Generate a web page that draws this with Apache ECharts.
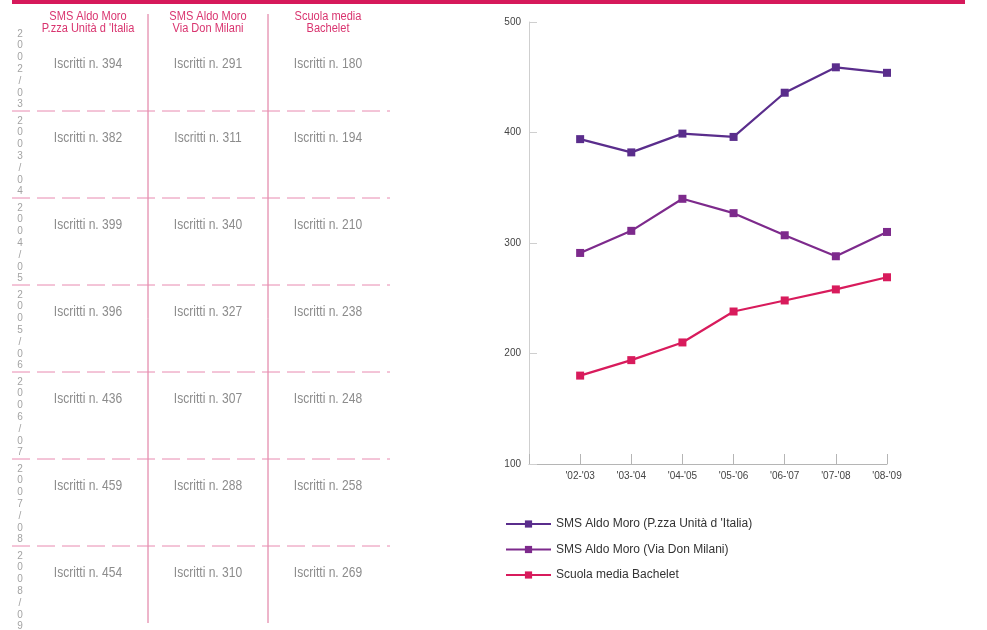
<!DOCTYPE html>
<html>
<head>
<meta charset="utf-8">
<script src="https://cdn.jsdelivr.net/npm/echarts@6/dist/echarts.min.js"></script>
<style>
  html, body { margin: 0; padding: 0; background: #fff; }
  #chart { width: 987px; height: 630px; }
</style>
</head>
<body>
<div id="chart"></div>
<script>
// dati
const seasons = ["'02-'03", "'03-'04", "'04-'05", "'05-'06", "'06-'07", "'07-'08", "'08-'09"];
const schoolYears = ['2002/03', '2003/04', '2004/05', '2005/06', '2006/07', '2007/08', '2008/09'];
const schoolNames = ['SMS Aldo Moro (P.zza Unità d \'Italia)', 'SMS Aldo Moro (Via Don Milani)', 'Scuola media Bachelet'];
const tableHeads = [['SMS Aldo Moro', 'P.zza Unità d \'Italia'], ['SMS Aldo Moro', 'Via Don Milani'], ['Scuola media', 'Bachelet']];
const aldoMoroPiazza = [394, 382, 399, 396, 436, 459, 454];
const aldoMoroMilani = [291, 311, 340, 327, 307, 288, 310];
const bachelet = [180, 194, 210, 238, 248, 258, 269];
const yTicks = [100, 200, 300, 400, 500];

const FONT = '"Liberation Sans", Arial, sans-serif';
const colors = ['#5a2d8c', '#7d2a8c', '#d81b5c'];
const allSeries = [aldoMoroPiazza, aldoMoroMilani, bachelet];

// tabella a sinistra (disegnata con graphic)
const colX = [88, 208, 328];
const lineY = [111, 198, 285, 372, 459, 546];
const graphic = [];

graphic.push({ type: 'rect', shape: { x: 12, y: 0, width: 953, height: 4 }, style: { fill: '#d6195b' } });

tableHeads.forEach((h, i) => {
  graphic.push({
    type: 'text', x: colX[i], y: 11, scaleX: 0.92,
    style: { text: h.join('\n'), fill: '#d9346f', font: '12px ' + FONT, lineHeight: 12, textAlign: 'center', textVerticalAlign: 'top' }
  });
});

[148, 268].forEach(x => {
  graphic.push({ type: 'line', shape: { x1: x, y1: 14, x2: x, y2: 623 }, style: { stroke: '#dc6d96', lineWidth: 1 } });
});

lineY.forEach(y => {
  graphic.push({ type: 'line', shape: { x1: 12, y1: y, x2: 390, y2: y }, style: { stroke: '#e88ab0', lineWidth: 1, lineDash: [18, 7] } });
});

schoolYears.forEach((yr, r) => {
  const top = r === 0 ? 28 : lineY[r - 1] + 4;
  graphic.push({
    type: 'text', x: 20, y: top,
    style: { text: yr.split('').join('\n'), fill: '#a3a3a3', font: '10px ' + FONT, lineHeight: 11.8, textAlign: 'center', textVerticalAlign: 'top' }
  });
  const cy = r === 0 ? 64 : lineY[r - 1] + 27;
  allSeries.forEach((vals, c) => {
    graphic.push({
      type: 'text', x: colX[c], y: cy, scaleX: 0.86,
      style: { text: 'Iscritti n. ' + vals[r], fill: '#8c8c8c', font: '14px ' + FONT, textAlign: 'center', textVerticalAlign: 'middle' }
    });
  });
});

const chart = echarts.init(document.getElementById('chart'));

chart.setOption({
  animation: false,
  color: colors,
  textStyle: { fontFamily: FONT },
  grid: { left: 529, right: 100, top: 22, bottom: 166 },
  xAxis: {
    type: 'value',
    min: 0,
    max: seasons.length,
    interval: 1,
    axisLine: { lineStyle: { color: '#b5b5b5' } },
    axisTick: { inside: true, length: 10, lineStyle: { color: '#b5b5b5' } },
    axisLabel: {
      color: '#444', fontSize: 10, margin: 7,
      formatter: v => (v === 0 ? '' : seasons[v - 1])
    },
    splitLine: { show: false }
  },
  yAxis: {
    type: 'value',
    min: yTicks[0],
    max: yTicks[yTicks.length - 1],
    interval: 100,
    axisLine: { show: true, lineStyle: { color: '#cfcfcf' } },
    axisTick: { show: true, inside: true, length: 8, lineStyle: { color: '#cfcfcf' } },
    axisLabel: { color: '#444', fontSize: 10, margin: 8 },
    splitLine: { show: false }
  },
  legend: {
    orient: 'vertical',
    left: 505,
    top: 518,
    padding: 0,
    itemWidth: 45,
    itemHeight: 9,
    itemGap: 13.5,
    textStyle: { fontSize: 12, color: '#333', fontFamily: FONT },
    data: schoolNames
  },
  series: schoolNames.map((name, i) => ({
    name: name,
    type: 'line',
    symbol: 'rect',
    symbolSize: 8,
    lineStyle: { width: 2.2 },
    data: allSeries[i].map((v, k) => [k + 1, v])
  })),
  graphic: graphic
});
</script>
</body>
</html>
